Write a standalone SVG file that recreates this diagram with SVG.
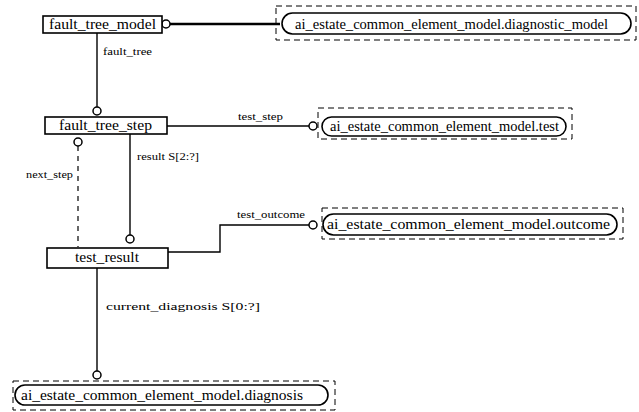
<svg xmlns="http://www.w3.org/2000/svg" width="639" height="412" viewBox="0 0 639 412">
  <style>
    .box { fill: #fff; stroke: #000; stroke-width: 1.6; }
    .pill { fill: #fff; stroke: #000; stroke-width: 1.6; }
    .frame { fill: none; stroke: #000; stroke-width: 1; stroke-dasharray: 6 4; }
    text { font-family: "Liberation Serif", "DejaVu Serif", serif; fill: #000; }
    .lbl { font-size: 15px; }
    .ref { font-size: 15px; }
    .rl { font-size: 10px; }
    .ln { fill: none; stroke: #000; stroke-width: 1.4; }
    .dash { fill: none; stroke: #000; stroke-width: 1.2; stroke-dasharray: 5 5; }
    .end { fill: #fff; stroke: #000; stroke-width: 1.5; }
  </style>

  <!-- relationships -->
  <g id="connectors">
    <line class="ln" x1="170" y1="24" x2="280" y2="24" style="stroke-width:2.4"/>
    <circle class="end" cx="166" cy="24" r="4"/>

    <line class="ln" x1="97" y1="33" x2="97" y2="107"/>
    <circle class="end" cx="97" cy="111" r="4"/>
    <text class="rl" x="103" y="55" textLength="49" lengthAdjust="spacingAndGlyphs">fault_tree</text>

    <line class="ln" x1="167" y1="126" x2="309" y2="126"/>
    <circle class="end" cx="313" cy="126" r="4"/>
    <text class="rl" x="238" y="120" textLength="45" lengthAdjust="spacingAndGlyphs">test_step</text>

    <line class="dash" x1="78" y1="146" x2="78" y2="247"/>
    <circle class="end" cx="78" cy="142" r="4"/>
    <text class="rl" x="26" y="178" textLength="47" lengthAdjust="spacingAndGlyphs">next_step</text>

    <line class="ln" x1="130" y1="134" x2="130" y2="235"/>
    <circle class="end" cx="130" cy="239" r="4"/>
    <text class="rl" x="137" y="160" textLength="62" lengthAdjust="spacingAndGlyphs">result S[2:?]</text>

    <polyline class="ln" points="168,252 220,252 220,225 309,225"/>
    <circle class="end" cx="313" cy="225" r="4"/>
    <text class="rl" x="237" y="218" textLength="68" lengthAdjust="spacingAndGlyphs">test_outcome</text>

    <line class="ln" x1="97" y1="268" x2="97" y2="371"/>
    <circle class="end" cx="97" cy="375" r="4"/>
    <text class="rl" x="106" y="310" textLength="154" lengthAdjust="spacingAndGlyphs">current_diagnosis S[0:?]</text>
  </g>

  <!-- entities -->
  <g id="fault_tree_model">
    <rect class="box" x="43" y="16" width="119" height="17"/>
    <text class="lbl" x="102.5" y="29" text-anchor="middle" textLength="107" lengthAdjust="spacingAndGlyphs">fault_tree_model</text>
  </g>

  <g id="fault_tree_step">
    <rect class="box" x="45" y="117" width="122" height="17"/>
    <text class="lbl" x="105.5" y="130" text-anchor="middle" textLength="93" lengthAdjust="spacingAndGlyphs">fault_tree_step</text>
  </g>

  <g id="test_result">
    <rect class="box" x="47" y="248" width="121" height="20"/>
    <text class="lbl" x="107" y="262" text-anchor="middle" textLength="64" lengthAdjust="spacingAndGlyphs">test_result</text>
  </g>

  <!-- referenced types from the common element model -->
  <g id="diagnostic_model">
    <rect class="frame" x="276" y="6" width="360" height="34"/>
    <rect class="pill" x="282" y="13" width="349" height="21" rx="10.5"/>
    <text class="ref" x="451.5" y="28.5" text-anchor="middle" textLength="313" lengthAdjust="spacingAndGlyphs">ai_estate_common_element_model.diagnostic_model</text>
  </g>

  <g id="test">
    <rect class="frame" x="318" y="108" width="254" height="31"/>
    <rect class="pill" x="322" y="117" width="244" height="19" rx="9.5"/>
    <text class="ref" x="444.5" y="131" text-anchor="middle" textLength="229" lengthAdjust="spacingAndGlyphs">ai_estate_common_element_model.test</text>
  </g>

  <g id="outcome">
    <rect class="frame" x="322" y="208" width="301" height="31"/>
    <rect class="pill" x="323" y="214" width="294" height="21" rx="10.5"/>
    <text class="ref" x="468.5" y="229" text-anchor="middle" textLength="283" lengthAdjust="spacingAndGlyphs">ai_estate_common_element_model.outcome</text>
  </g>

  <g id="diagnosis">
    <rect class="frame" x="13" y="381" width="322" height="29"/>
    <rect class="pill" x="15" y="385" width="313" height="20" rx="10"/>
    <text class="ref" x="162" y="399.5" text-anchor="middle" textLength="282" lengthAdjust="spacingAndGlyphs">ai_estate_common_element_model.diagnosis</text>
  </g>
</svg>
